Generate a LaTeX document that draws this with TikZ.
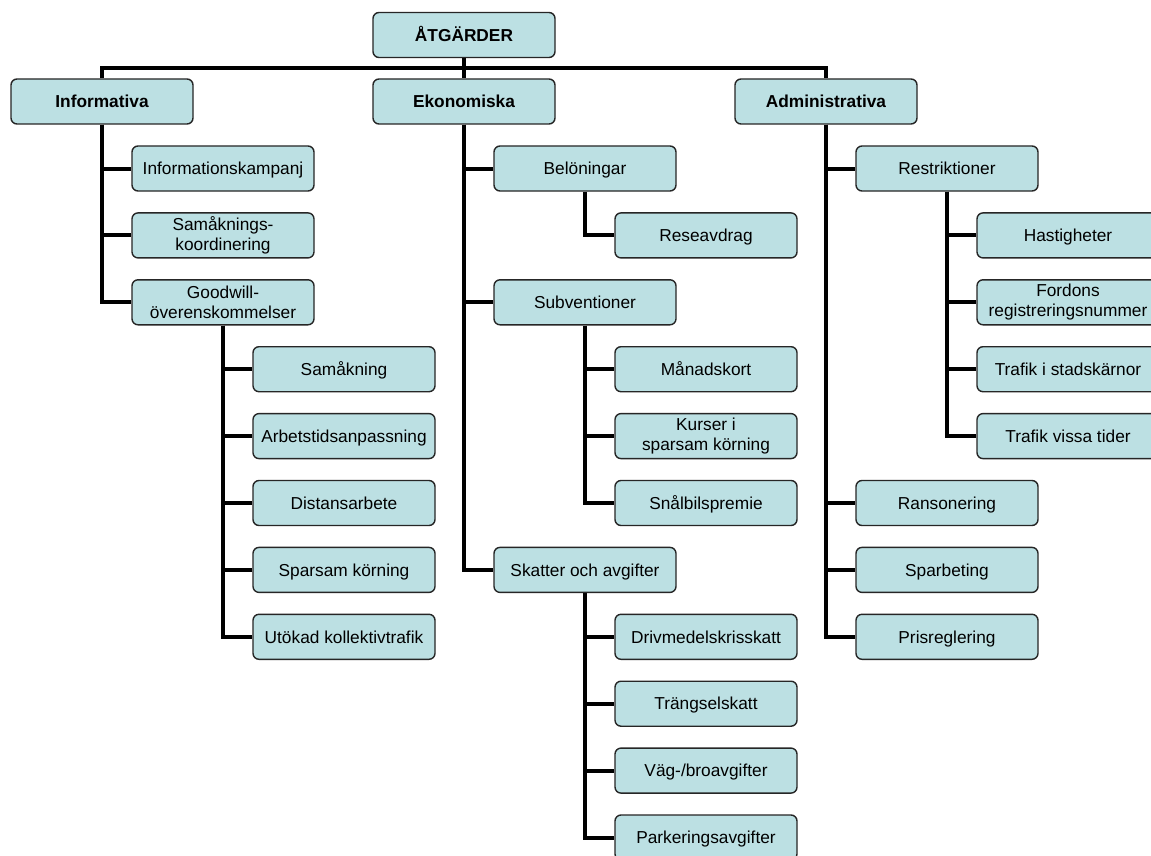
\documentclass[tikz,border=0pt]{standalone}
\usepackage{fontspec}
\setmainfont{Liberation Sans}
\usetikzlibrary{backgrounds}
\definecolor{boxfill}{RGB}{188,224,227}
\begin{document}
\begin{tikzpicture}[x=1pt,y=1pt,
  boxbase/.style={draw=black!85, line width=1.4pt, fill=boxfill, rounded corners=6pt,
    minimum width=182pt, minimum height=45pt, inner sep=0pt, align=center,
    font=\fontsize{17.3}{20}\selectfont},
  box/.style={boxbase, text height=12.4pt, text depth=0pt},
  twobox/.style={boxbase},
  hbox/.style={box, font=\fontsize{17.3}{20}\selectfont\bfseries},
  conn/.style={line width=4pt, black}]
\useasboundingbox (0,0) rectangle (1151,-856);
% top levels
\node[hbox] (root) at (464,-35) {ÅTGÄRDER};
\node[hbox] (info) at (102,-101.5) {Informativa};
\node[hbox] (eko) at (464,-101.5) {Ekonomiska};
\node[hbox] (adm) at (826,-101.5) {Administrativa};
\coordinate (bus) at (0,-68);
% Informativa
\node[box] (i1) at (223,-168.5) {Informationskampanj};
\node[twobox] (i2) at (223,-235.4) {Samåknings-\\koordinering};
\node[twobox] (i3) at (223,-302.3) {Goodwill-\\överenskommelser};
\node[box] (g1) at (344,-369.2) {Samåkning};
\node[box] (g2) at (344,-436.1) {Arbetstidsanpassning};
\node[box] (g3) at (344,-503.0) {Distansarbete};
\node[box] (g4) at (344,-569.9) {Sparsam körning};
\node[box] (g5) at (344,-636.8) {Utökad kollektivtrafik};
% Ekonomiska
\node[box] (e1) at (585,-168.5) {Belöningar};
\node[box] (e1a) at (706,-235.4) {Reseavdrag};
\node[box] (e2) at (585,-302.3) {Subventioner};
\node[box] (e2a) at (706,-369.2) {Månadskort};
\node[twobox] (e2b) at (706,-436.1) {Kurser i\\sparsam körning};
\node[box] (e2c) at (706,-503.0) {Snålbilspremie};
\node[box] (e3) at (585,-569.9) {Skatter och avgifter};
\node[box] (e3a) at (706,-636.8) {Drivmedelskrisskatt};
\node[box] (e3b) at (706,-703.7) {Trängselskatt};
\node[box] (e3c) at (706,-770.6) {Väg-/broavgifter};
\node[box] (e3d) at (706,-837.5) {Parkeringsavgifter};
% Administrativa
\node[box] (a1) at (947,-168.5) {Restriktioner};
\node[box] (a1a) at (1068,-235.4) {Hastigheter};
\node[twobox] (a1b) at (1068,-302.3) {Fordons\\registreringsnummer};
\node[box] (a1c) at (1068,-369.2) {Trafik i stadskärnor};
\node[box] (a1d) at (1068,-436.1) {Trafik vissa tider};
\node[box] (a2) at (947,-503.0) {Ransonering};
\node[box] (a3) at (947,-569.9) {Sparbeting};
\node[box] (a4) at (947,-636.8) {Prisreglering};
% connectors
\begin{scope}[on background layer]
\fill[white] (0,0) rectangle (1151,-856);
\draw[conn] (info.north) -- (info.north |- bus) -| (adm.north);
\draw[conn] (root.south) -- (eko.north);
\foreach \c in {i1,i2,i3} \draw[conn] (info.south) |- (\c.west);
\foreach \c in {g1,g2,g3,g4,g5} \draw[conn] (i3.south) |- (\c.west);
\foreach \c in {e1,e2,e3} \draw[conn] (eko.south) |- (\c.west);
\draw[conn] (e1.south) |- (e1a.west);
\foreach \c in {e2a,e2b,e2c} \draw[conn] (e2.south) |- (\c.west);
\foreach \c in {e3a,e3b,e3c,e3d} \draw[conn] (e3.south) |- (\c.west);
\foreach \c in {a1,a2,a3,a4} \draw[conn] (adm.south) |- (\c.west);
\foreach \c in {a1a,a1b,a1c,a1d} \draw[conn] (a1.south) |- (\c.west);
\end{scope}
\end{tikzpicture}
\end{document}
